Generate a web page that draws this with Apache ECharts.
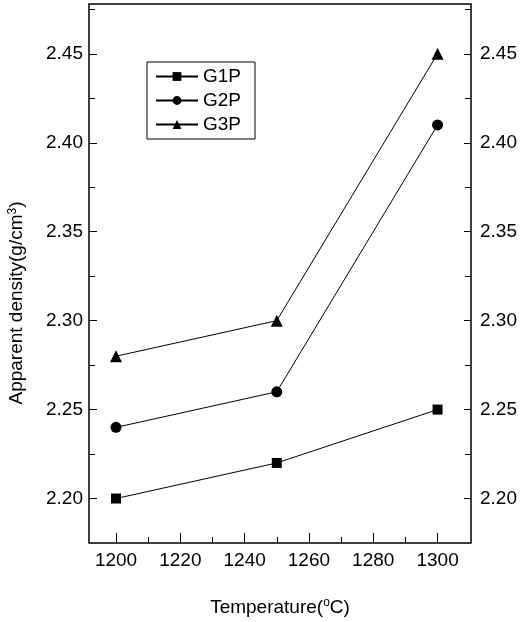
<!DOCTYPE html>
<html>
<head>
<meta charset="utf-8">
<style>
  html, body { margin: 0; padding: 0; background: #fff; }
  #main { width: 524px; height: 622px; }
</style>
<script src="https://cdn.jsdelivr.net/npm/echarts@6/dist/echarts.min.js"></script>
</head>
<body>
<div id="main"></div>
<script>
  var temps = [1200, 1250, 1300];
  var g1p = [2.20, 2.22, 2.25];
  var g2p = [2.24, 2.26, 2.41];
  var g3p = [2.28, 2.30, 2.45];
  var xTicks = [1200, 1220, 1240, 1260, 1280, 1300];
  var xMinor = [1210, 1230, 1250, 1270, 1290];
  var yTicks = [2.20, 2.25, 2.30, 2.35, 2.40, 2.45];
  var yMinor = [2.225, 2.275, 2.325, 2.375, 2.425, 2.475];

  var font = 'Liberation Sans, Arial, sans-serif';
  var xMin = 1191.6, xMax = 1310.4;
  var yMin = 2.175, yMax = 2.478;

  function pairs(ys) {
    return temps.map(function (t, i) { return [t, ys[i]]; });
  }

  function yAxisOf(pos, ticks, len, labels) {
    return {
      type: 'value', position: pos, min: yMin, max: yMax,
      axisLine: { show: false },
      splitLine: { show: false },
      axisTick: { show: true, inside: true, length: len, customValues: ticks, lineStyle: { color: '#000', width: 1 } },
      axisLabel: labels ? {
        show: true, customValues: ticks, margin: pos === 'left' ? 6 : 9,
        color: '#000', fontSize: 19, fontFamily: font,
        formatter: function (v) { return v.toFixed(2); }
      } : { show: false }
    };
  }

  function xAxisOf(ticks, len, labels) {
    return {
      type: 'value', position: 'bottom', min: xMin, max: xMax,
      axisLine: { show: false },
      splitLine: { show: false },
      axisTick: { show: true, inside: true, length: len, customValues: ticks, lineStyle: { color: '#000', width: 1 } },
      axisLabel: labels ? {
        show: true, customValues: ticks, margin: 8,
        color: '#000', fontSize: 19, fontFamily: font,
        formatter: function (v) { return String(v); }
      } : { show: false }
    };
  }

  var chart = echarts.init(document.getElementById('main'));

  var xMain = xAxisOf(xTicks, 10, true);
  xMain.name = 'Temperature({sup|o}C)';
  xMain.nameLocation = 'middle';
  xMain.nameGap = 54;
  xMain.nameTextStyle = {
    color: '#000', fontSize: 19, fontFamily: font,
    rich: { sup: { fontSize: 12, verticalAlign: 'top', padding: [0, 0, 9, 0], color: '#000', fontFamily: font } }
  };

  function lineSeries(name, ys, symbol, size) {
    return {
      name: name, type: 'line', data: pairs(ys),
      symbol: symbol, symbolSize: size,
      itemStyle: { color: '#000' },
      lineStyle: { color: '#000', width: 1 },
      emphasis: { disabled: true }
    };
  }

  chart.setOption({
    animation: false,
    backgroundColor: '#fff',
    grid: { left: 89, right: 53, top: 4, bottom: 79, show: true, borderColor: '#000', borderWidth: 1.5 },
    legend: {
      orient: 'vertical', left: 147, top: 62,
      borderColor: '#000', borderWidth: 1, padding: [5, 14, 5, 8],
      itemWidth: 42, itemHeight: 11, itemGap: 5,
      textStyle: { color: '#000', fontSize: 19, fontFamily: font },
      data: ['G1P', 'G2P', 'G3P']
    },
    graphic: [{
      type: 'text', x: 17, y: 303, rotation: Math.PI / 2,
      style: {
        text: 'Apparent density(g/cm{sup|3})',
        fill: '#000', fontSize: 19, fontFamily: font,
        align: 'center', verticalAlign: 'middle',
        rich: { sup: { fontSize: 12, verticalAlign: 'top', padding: [0, 0, 9, 0], fill: '#000', fontFamily: font } }
      }
    }],
    xAxis: [xMain, xAxisOf(xMinor, 6, false)],
    yAxis: [
      yAxisOf('left', yTicks, 8, true),
      yAxisOf('right', yTicks, 7, true),
      yAxisOf('left', yMinor, 6, false),
      yAxisOf('right', yMinor, 6, false)
    ],
    series: [
      lineSeries('G1P', g1p, 'rect', 10),
      lineSeries('G2P', g2p, 'circle', 11),
      lineSeries('G3P', g3p, 'triangle', 12)
    ]
  });
</script>
</body>
</html>
